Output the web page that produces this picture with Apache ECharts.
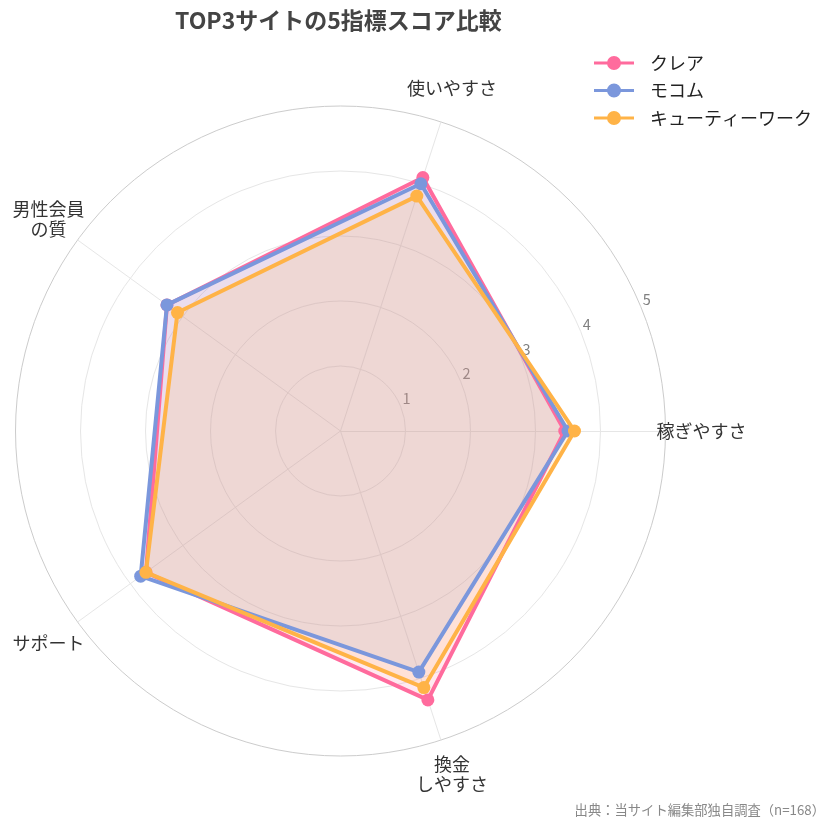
<!DOCTYPE html>
<html>
<head>
<meta charset="utf-8">
<script src="https://cdn.jsdelivr.net/npm/echarts@6/dist/echarts.min.js"></script>
<style>
html,body{margin:0;padding:0;background:#fff;}
#chart{width:839px;height:829px;}
</style>
</head>
<body>
<div id="chart"></div>
<script>
const indicators = ['稼ぎやすさ', '使いやすさ', '男性会員\nの質', 'サポート', '換金\nしやすさ'];
const seriesNames = ['クレア', 'モコム', 'キューティーワーク'];
const clearValues = [3.45, 4.1, 3.3, 3.7, 4.35];
const mocomValues = [3.5, 4.0, 3.3, 3.8, 3.9];
const cutieValues = [3.6, 3.8, 3.1, 3.7, 4.15];
const scoreMax = 5;
const colors = ['#FF6B9D', '#7B97DC', '#FFB347'];

const FONT = 'Noto Sans CJK JP';
const CENTER = [340.5, 431];
const RADIUS = 325;

const legendIcon = 'path://M0,5.5 H40 V8.5 H0 Z M13,7 A7,7 0 1,1 27,7 A7,7 0 1,1 13,7 Z';

const allValues = [clearValues, mocomValues, cutieValues];

const areaSeries = seriesNames.map((n, i) => ({
  type: 'radar',
  name: n,
  symbol: 'none',
  silent: true,
  z: 1,
  lineStyle: {width: 0, opacity: 0, color: colors[i]},
  itemStyle: {color: colors[i]},
  areaStyle: {color: colors[i], opacity: 0.15},
  data: [{value: allValues[i], name: n}]
}));
const lineSeries = seriesNames.map((n, i) => ({
  type: 'radar',
  name: n,
  symbol: 'circle',
  symbolSize: 13,
  z: 3 + i,
  lineStyle: {width: 4, color: colors[i]},
  itemStyle: {color: colors[i]},
  data: [{value: allValues[i], name: n}]
}));

const chart = echarts.init(document.getElementById('chart'), null, {renderer: 'canvas'});
chart.setOption({
  backgroundColor: '#ffffff',
  textStyle: {fontFamily: FONT},
  title: [{
    text: 'TOP3サイトの5指標スコア比較',
    left: 170,
    top: 4,
    textStyle: {fontFamily: FONT, fontSize: 23, fontWeight: 'bold', color: '#444444'}
  }, {
    text: '出典：当サイト編集部独自調査（n=168）',
    right: 9,
    top: 798,
    textStyle: {fontFamily: FONT, fontSize: 13.3, fontWeight: 'normal', color: '#888888'}
  }],
  legend: {
    orient: 'vertical',
    left: 594,
    top: 53,
    padding: 0,
    itemWidth: 40,
    itemHeight: 14,
    itemGap: 7.5,
    data: seriesNames.map(n => ({name: n, icon: legendIcon})),
    textStyle: {fontFamily: FONT, fontSize: 18, color: '#222222', lineHeight: 20, padding: [0, 0, 0, 11]}
  },
  radar: {
    center: CENTER,
    radius: RADIUS,
    startAngle: 0,
    shape: 'circle',
    splitNumber: 5,
    nameGap: 36,
    indicator: indicators.map(n => ({name: n, max: scoreMax, min: 0})),
    axisName: {
      color: '#333333', fontFamily: FONT, fontSize: 18, lineHeight: 20,
      align: 'center', verticalAlign: 'middle'
    },
    axisLine: {lineStyle: {color: '#e6e6e6', width: 1}},
    splitLine: {lineStyle: {color: ['#e6e6e6', '#e6e6e6', '#e6e6e6', '#e6e6e6', '#e6e6e6', '#cccccc'], width: 1}},
    splitArea: {show: false},
    axisTick: {show: false},
    axisLabel: {show: false}
  },
  polar: {center: CENTER, radius: RADIUS},
  angleAxis: {show: false, startAngle: 22.5, min: 0, max: 360},
  radiusAxis: {
    min: 0, max: scoreMax, interval: 1,
    axisLine: {show: false}, axisTick: {show: false}, splitLine: {show: false},
    axisLabel: {
      align: 'left',
      padding: [0, 0, 0, 5],
      color: '#808080', fontSize: 14.5, fontFamily: FONT,
      formatter: v => (v === 0 ? '' : String(v))
    }
  },
  series: areaSeries.concat(lineSeries)
});
</script>
</body>
</html>
